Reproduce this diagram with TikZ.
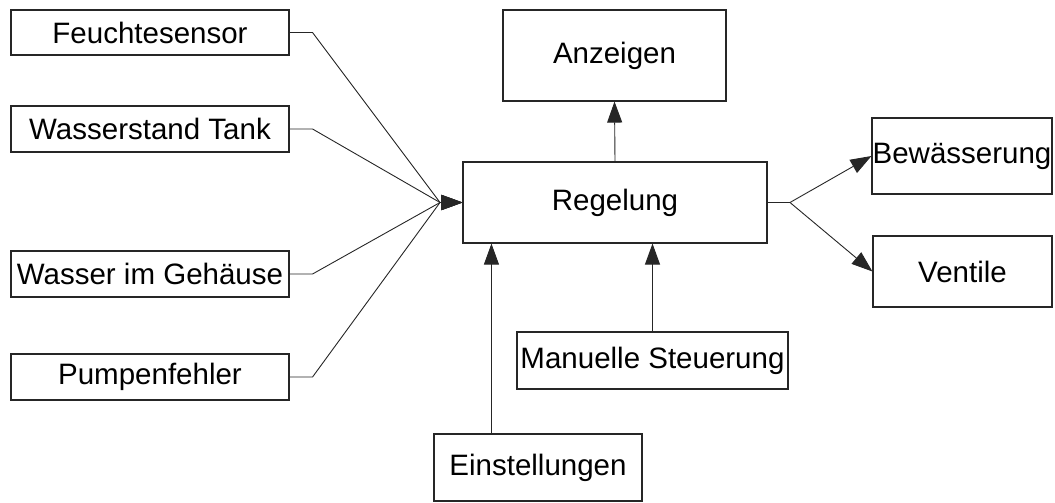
\documentclass[tikz,border=0pt]{standalone}
\usepackage{fontspec}
\setmainfont{Liberation Sans}
\usetikzlibrary{arrows.meta}
\begin{document}
\begin{tikzpicture}[x=1pt,y=-1pt,
  box/.style={draw=black!85,line width=1.1pt,rectangle,inner sep=0pt,anchor=center,
    font=\fontsize{29.5}{31}\selectfont},
  conn/.style={draw=black!85,line width=0.9pt},
  arr/.style={conn,-{Triangle[length=21pt,width=15pt]}}]
\useasboundingbox (0,0) rectangle (1055,503);
\node[box,minimum width=278pt,minimum height=45pt] (F) at (150,32.5) {Feuchtesensor};
\node[box,minimum width=278pt,minimum height=46pt] (W) at (150,129) {Wasserstand Tank};
\node[box,minimum width=278pt,minimum height=46pt] (G) at (150,274) {Wasser im Gehäuse};
\node[box,minimum width=278pt,minimum height=46pt] (P) at (150,377) {Pumpenfehler};
\node[box,minimum width=223pt,minimum height=91pt] (A) at (614.5,55.5) {Anzeigen};
\node[box,minimum width=304pt,minimum height=81pt] (R) at (615,202.5) {Regelung};
\node[box,minimum width=180pt,minimum height=76pt] (B) at (962,156) {Bewässerung};
\node[box,minimum width=179pt,minimum height=71pt] (V) at (962.5,271.5) {Ventile};
\node[box,minimum width=271pt,minimum height=57pt] (M) at (652.5,360.5) {Manuelle Steuerung};
\node[box,minimum width=208pt,minimum height=67pt] (E) at (538,467.5) {Einstellungen};
\coordinate (cin) at (440,202.5);
\coordinate (cout) at (790,202.5);
\draw[arr] (F.east) -- ++(23,0) -- (cin) -- (R.west);
\draw[arr] (W.east) -- ++(23,0) -- (cin) -- (R.west);
\draw[arr] (G.east) -- ++(23,0) -- (cin) -- (R.west);
\draw[arr] (P.east) -- ++(23,0) -- (cin) -- (R.west);
\draw[arr] (R.east) -- (cout) -- (B.west);
\draw[arr] (R.east) -- (cout) -- (V.west);
\draw[arr] (R.north) -- (A.south);
\draw[arr] (M.north) -- (M.north |- R.south);
\coordinate (eup) at ([xshift=58pt]E.north west);
\draw[arr] (eup) -- (eup |- R.south);
\end{tikzpicture}
\end{document}
